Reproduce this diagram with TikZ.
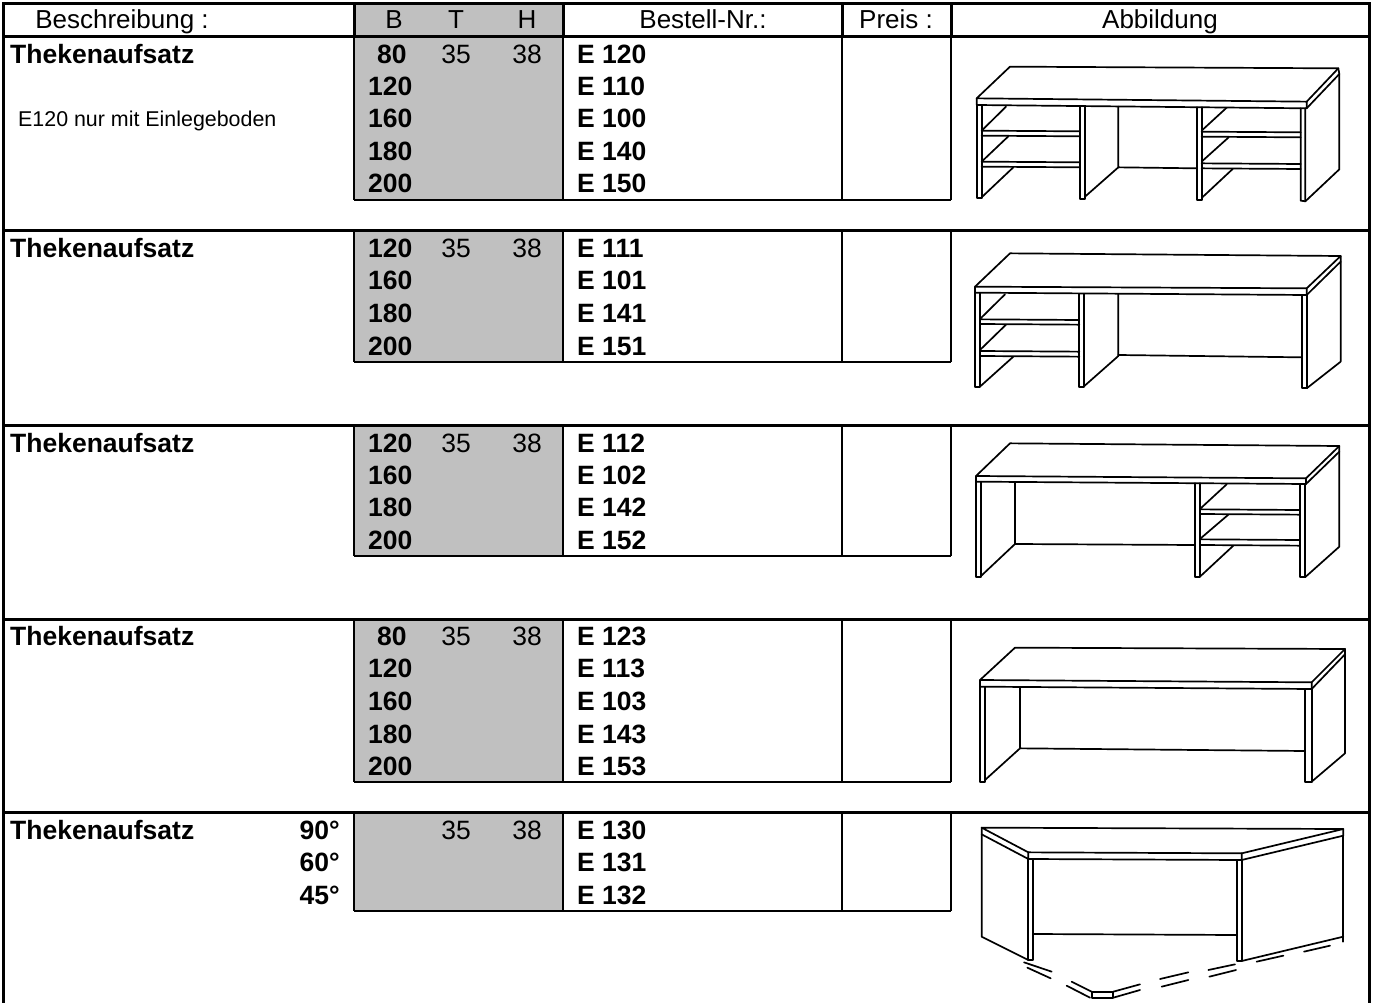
\documentclass[tikz,border=0pt]{standalone}
\usepackage{fontspec}
\setmainfont{Liberation Sans}
\usepackage{xcolor}
\definecolor{boxgray}{RGB}{192,192,192}
\tikzset{
  rule/.style={line width=3pt},
  boxline/.style={line width=2.6pt},
  sketch/.style={line width=1.7pt, line join=round, line cap=round},
  headtext/.style={font=\fontsize{26}{30}\selectfont, inner sep=0pt},
  celltext/.style={font=\fontsize{26.5}{30}\selectfont, inner sep=0pt},
  cellbold/.style={font=\fontsize{26.5}{30}\selectfont\bfseries, inner sep=0pt},
  notetext/.style={font=\fontsize{21.4}{25}\selectfont, inner sep=0pt},
}
\begin{document}
\begin{tikzpicture}[x=1pt, y=-1pt]
\useasboundingbox (0,0) rectangle (1374,1003);

    % gray columns
    \fill[boxgray] (354,4) rectangle (563,37);
    \foreach \top/\bot in {37/200, 231/362, 425/556, 619/782, 812/911}
        \fill[boxgray] (354,\top) rectangle (563,\bot);

    % frame and row rules
    \draw[rule] (3,1003) -- (3,4) -- (1369,4) -- (1369,1003);
    \foreach \y in {37, 231, 425, 619, 812}
        \draw[rule] (3,\y) -- (1369,\y);
    \foreach \x in {354, 563, 842, 951}
        \draw[rule] (\x,4) -- (\x,37);
    \foreach \top/\bot in {37/200, 231/362, 425/556, 619/782, 812/911} {
        \foreach \x in {354, 563, 842, 951}
            \draw[boxline] (\x,\top) -- (\x,\bot);
        \draw[boxline] (354,\bot) -- (951,\bot);
    }

    % header
    \node[headtext, anchor=base] (hdesc) at (122,29) {Beschreibung :};
    \node[headtext, anchor=base] (hB) at (394,29) {B};
    \node[headtext, anchor=base] (hT) at (456,29) {T};
    \node[headtext, anchor=base] (hH) at (527,29) {H};
    \node[headtext, anchor=base] (hnr) at (703,29) {Bestell-Nr.:};
    \node[headtext, anchor=base] (hpreis) at (896,29) {Preis :};
    \node[headtext, anchor=base] (habb) at (1160,29) {Abbildung};

    % row 1
    \node[cellbold, anchor=base west] (desc1) at (10,64) {Thekenaufsatz};
    \node[notetext, anchor=base west] (note1) at (18,127) {E120 nur mit Einlegeboden};
    \node[celltext, anchor=base] (tief1) at (456,64) {35};
    \node[celltext, anchor=base] (hoch1) at (527,64) {38};
    \foreach \x/\b/\e/\y [count=\i] in {377/80/120/64, 368/120/110/96, 368/160/100/128, 368/180/140/161, 368/200/150/193} {
        \node[cellbold, anchor=base west] (breit1-\i) at (\x,\y) {\b};
        \node[cellbold, anchor=base west] (nr1-\i) at (577,\y) {E \e};
    }

    % row 2
    \node[cellbold, anchor=base west] (desc2) at (10,258) {Thekenaufsatz};
    \node[celltext, anchor=base] (tief2) at (456,258) {35};
    \node[celltext, anchor=base] (hoch2) at (527,258) {38};
    \foreach \b/\e/\y [count=\i] in {120/111/258, 160/101/290, 180/141/322, 200/151/355} {
        \node[cellbold, anchor=base west] (breit2-\i) at (368,\y) {\b};
        \node[cellbold, anchor=base west] (nr2-\i) at (577,\y) {E \e};
    }

    % row 3
    \node[cellbold, anchor=base west] (desc3) at (10,452) {Thekenaufsatz};
    \node[celltext, anchor=base] (tief3) at (456,452) {35};
    \node[celltext, anchor=base] (hoch3) at (527,452) {38};
    \foreach \b/\e/\y [count=\i] in {120/112/452, 160/102/484, 180/142/516, 200/152/549} {
        \node[cellbold, anchor=base west] (breit3-\i) at (368,\y) {\b};
        \node[cellbold, anchor=base west] (nr3-\i) at (577,\y) {E \e};
    }

    % row 4
    \node[cellbold, anchor=base west] (desc4) at (10,645) {Thekenaufsatz};
    \node[celltext, anchor=base] (tief4) at (456,645) {35};
    \node[celltext, anchor=base] (hoch4) at (527,645) {38};
    \foreach \x/\b/\e/\y [count=\i] in {377/80/123/645, 368/120/113/677, 368/160/103/710, 368/180/143/743, 368/200/153/775} {
        \node[cellbold, anchor=base west] (breit4-\i) at (\x,\y) {\b};
        \node[cellbold, anchor=base west] (nr4-\i) at (577,\y) {E \e};
    }

    % row 5
    \node[cellbold, anchor=base west] (desc5) at (10,839) {Thekenaufsatz};
    \node[celltext, anchor=base] (tief5) at (456,839) {35};
    \node[celltext, anchor=base] (hoch5) at (527,839) {38};
    \foreach \w/\e/\y [count=\i] in {90/130/839, 60/131/871, 45/132/904} {
        \node[cellbold, anchor=base east] (winkel5-\i) at (340,\y) {\w°};
        \node[cellbold, anchor=base west] (nr5-\i) at (577,\y) {E \e};
    }

    % sketch 1: two shelf bays
    \begin{scope}[shift={(950,40)}, scale=1/3, sketch]
        \draw (80,175) -- (180,80) -- (1165,85) -- (1070,185) -- cycle;
        \draw (80,175) -- (80,195) -- (1070,205) -- (1070,185);
        \draw (1070,205) -- (1168,102) -- (1165,85);
        \draw (80,195) -- (80,475) -- (95,475) -- (95,197);
        \draw (1052,205) -- (1052,482) -- (1066,484) -- (1066,205);
        \draw (1066,484) -- (1168,388) -- (1168,102);
        \draw (390,200) -- (390,478) -- (405,478) -- (405,200);
        \draw (740,202) -- (740,480) -- (755,480) -- (755,202);
        \draw (405,470) -- (505,382) -- (505,200);
        \draw (505,382) -- (740,385);
        \draw (95,272) -- (390,274) (95,287) -- (390,289);
        \draw (95,365) -- (390,367) (95,380) -- (390,382);
        \draw (97,270) -- (168,200) (97,363) -- (175,289) (97,470) -- (190,382);
        \draw (755,275) -- (1052,277) (755,290) -- (1052,292);
        \draw (755,370) -- (1052,372) (755,385) -- (1052,387);
        \draw (757,270) -- (830,203) (757,363) -- (836,292) (757,472) -- (848,387);
    \end{scope}

    % sketch 2: shelf bay left
    \begin{scope}[shift={(950,240)}, scale=1/3, sketch]
        \draw (75,140) -- (180,40) -- (1172,48) -- (1070,145) -- cycle;
        \draw (75,140) -- (75,158) -- (1070,165) -- (1070,145);
        \draw (1070,165) -- (1172,65) -- (1172,48);
        \draw (75,158) -- (75,440) -- (90,440) -- (90,158);
        \draw (1055,165) -- (1055,445) -- (1070,445) -- (1070,165);
        \draw (1070,445) -- (1172,365) -- (1172,65);
        \draw (388,162) -- (388,442) -- (403,442) -- (403,162);
        \draw (403,438) -- (505,348) -- (505,162);
        \draw (505,345) -- (1055,352);
        \draw (90,238) -- (388,240) (90,252) -- (388,254);
        \draw (90,333) -- (388,335) (90,348) -- (388,350);
        \draw (92,235) -- (165,163) (92,328) -- (168,254) (92,438) -- (190,350);
    \end{scope}

    % sketch 3: shelf bay right
    \begin{scope}[shift={(950,430)}, scale=1/3, sketch]
        \draw (78,138) -- (180,40) -- (1168,48) -- (1068,145) -- cycle;
        \draw (78,138) -- (78,155) -- (1068,162) -- (1068,145);
        \draw (1068,162) -- (1168,65) -- (1168,48);
        \draw (78,155) -- (78,440) -- (93,440) -- (93,155);
        \draw (93,438) -- (195,342) -- (195,158);
        \draw (195,342) -- (735,345);
        \draw (735,160) -- (735,442) -- (750,442) -- (750,160);
        \draw (1050,162) -- (1050,442) -- (1065,442) -- (1065,162);
        \draw (1065,442) -- (1168,350) -- (1168,65);
        \draw (750,238) -- (1050,240) (750,252) -- (1050,254);
        \draw (750,328) -- (1050,330) (750,345) -- (1050,347);
        \draw (752,235) -- (830,163) (752,325) -- (835,254) (752,438) -- (850,347);
    \end{scope}

    % sketch 4: open
    \begin{scope}[shift={(950,625)}, scale=1/3, sketch]
        \draw (90,165) -- (195,68) -- (1185,72) -- (1085,172) -- cycle;
        \draw (90,165) -- (90,185) -- (1085,192) -- (1085,172);
        \draw (1085,192) -- (1185,88) -- (1185,72);
        \draw (90,185) -- (90,470) -- (105,470) -- (105,187);
        \draw (105,465) -- (210,370) -- (210,188);
        \draw (210,370) -- (1065,378);
        \draw (1065,192) -- (1065,472) -- (1085,472) -- (1085,192);
        \draw (1085,470) -- (1185,385) -- (1185,88);
    \end{scope}

    % sketch 5: corner piece
    \begin{scope}[shift={(950,815)}, scale=1/3, sketch]
        \draw (95,38) -- (1180,42) -- (875,115) -- (235,112) -- cycle;
        \draw (95,38) -- (95,58) -- (235,132) -- (235,112);
        \draw (235,132) -- (875,135) -- (875,115);
        \draw (875,135) -- (1180,62) -- (1180,42);
        \draw (95,58) -- (95,365) -- (235,435);
        \draw (235,132) -- (235,435) -- (250,435) -- (250,135);
        \draw (860,135) -- (860,438) -- (875,438) -- (875,135);
        \draw (250,357) -- (860,360);
        \draw (875,438) -- (1180,365);
        \draw (1180,62) -- (1180,380);
        % floor outline
        \draw (222,442) -- (305,470) (232,458) -- (302,490);
        \draw (350,512) -- (420,548) (365,500) -- (425,530);
        \draw (425,530) rectangle (490,548);
        \draw (490,530) -- (570,508) (490,548) -- (570,525);
        \draw (630,492) -- (715,472) (635,515) -- (715,495);
        \draw (775,465) -- (855,448) (778,485) -- (858,465);
        \draw (920,440) -- (1000,422) (1062,410) -- (1140,392);
    \end{scope}

\end{tikzpicture}
\end{document}
